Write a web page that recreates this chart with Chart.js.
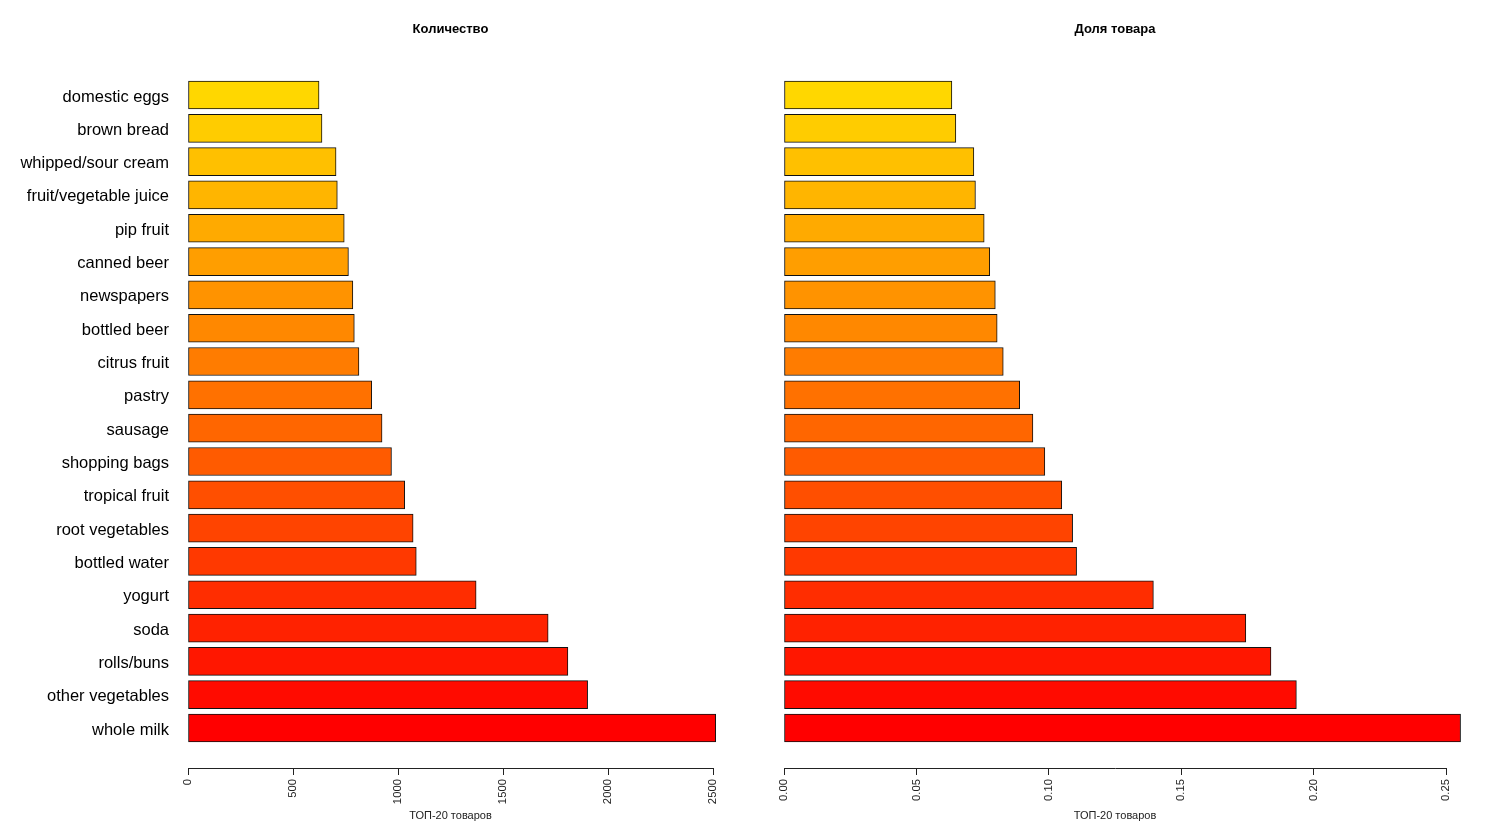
<!DOCTYPE html>
<html>
<head>
<meta charset="utf-8">
<script src="https://cdn.jsdelivr.net/npm/chart.js@4.4.1/dist/chart.umd.min.js"></script>
<style>
  html, body { margin: 0; padding: 0; background: #fff; }
  body { width: 1488px; height: 837px; position: relative; overflow: hidden; }
  canvas { position: absolute; top: 0; }
  #countChart { left: 0; }
  #shareChart { left: 770px; }
</style>
</head>
<body>
<canvas id="countChart" width="740" height="837"></canvas>
<canvas id="shareChart" width="718" height="837"></canvas>
<script>
// ТОП-20 товаров, от самого частого к самому редкому
const items = ['whole milk', 'other vegetables', 'rolls/buns', 'soda', 'yogurt',
  'bottled water', 'root vegetables', 'tropical fruit', 'shopping bags', 'sausage',
  'pastry', 'citrus fruit', 'bottled beer', 'newspapers', 'canned beer',
  'pip fruit', 'fruit/vegetable juice', 'whipped/sour cream', 'brown bread', 'domestic eggs'];
const counts = [2513, 1903, 1809, 1715, 1372, 1087, 1072, 1032, 969, 924,
  875, 814, 792, 785, 764, 744, 711, 705, 638, 624];
const shares = [0.2555, 0.1935, 0.1839, 0.1744, 0.1395, 0.1105, 0.1090, 0.1049, 0.0985, 0.0940,
  0.0890, 0.0828, 0.0805, 0.0798, 0.0777, 0.0756, 0.0723, 0.0717, 0.0649, 0.0634];
const countTicks = [0, 500, 1000, 1500, 2000, 2500];
const shareTicks = [0, 0.05, 0.10, 0.15, 0.20, 0.25];

const FONT = "'Liberation Sans', Arial, sans-serif";

// red -> gold
function barColor(i) {
  const g = Math.round(215 * i / (items.length - 1));
  return 'rgb(255,' + g + ',0)';
}
const colors = items.map((_, i) => barColor(i));

function makeChart(id, values, title, xmax, xticks, fmt, yWidth, pad) {
  const ctx = document.getElementById(id).getContext('2d');
  return new Chart(ctx, {
    type: 'bar',
    data: {
      datasets: [{
        data: values.map((v, i) => ({ x: v, y: i })),
        backgroundColor: colors,
        borderColor: '#111',
        borderWidth: 1,
        borderSkipped: false,
        barThickness: 28,
        clip: false
      }]
    },
    options: {
      indexAxis: 'y',
      responsive: false,
      animation: false,
      layout: { padding: pad },
      plugins: {
        legend: { display: false },
        tooltip: { enabled: false },
        title: {
          display: true,
          text: title,
          fullSize: false,
          color: '#000',
          font: { family: FONT, size: 13, weight: 'bold' },
          padding: { top: 0, bottom: 32.4 }
        }
      },
      scales: {
        x: {
          type: 'linear',
          min: 0,
          max: xmax,
          afterFit: s => { s.height = 59; },
          afterBuildTicks: s => { s.ticks = xticks.map(v => ({ value: v })); },
          ticks: {
            minRotation: 90,
            maxRotation: 90,
            padding: 4,
            color: '#222',
            font: { family: FONT, size: 11.3 },
            callback: fmt
          },
          grid: { drawOnChartArea: false, drawTicks: true, tickLength: 7, color: '#222' },
          border: { display: true, color: '#222', width: 1 },
          title: {
            display: true,
            text: 'ТОП-20 товаров',
            color: '#222',
            font: { family: FONT, size: 11 },
            padding: { top: 4, bottom: 4 }
          }
        },
        y: {
          type: 'linear',
          offset: false,
          min: -1.2,
          max: 19.75,
          afterFit: s => { s.width = yWidth; },
          afterBuildTicks: s => { s.ticks = items.map((_, i) => ({ value: i })); },
          ticks: {
            display: yWidth > 0,
            autoSkip: false,
            padding: 19,
            labelOffset: 2,
            color: '#000',
            font: { family: FONT, size: 16.5 },
            callback: v => items[v]
          },
          grid: { display: false, drawTicks: false },
          border: { display: false }
        }
      }
    }
  });
}

makeChart('countChart', counts, 'Количество', 2500, countTicks, v => String(v), 188,
  { top: 22, right: 27, bottom: 10, left: 0 });
makeChart('shareChart', shares, 'Доля товара', 0.25, shareTicks, v => Number(v).toFixed(2), 0,
  { top: 22, right: 42, bottom: 10, left: 14 });
</script>
</body>
</html>
